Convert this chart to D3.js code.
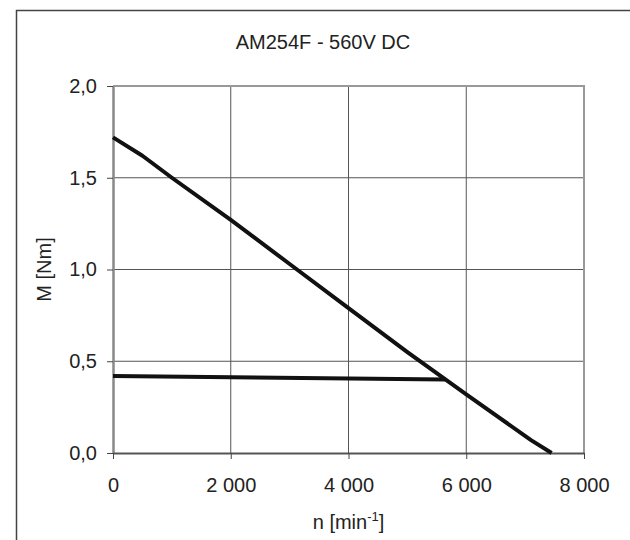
<!DOCTYPE html>
<html>
<head>
<meta charset="utf-8">
<script src="https://cdn.jsdelivr.net/npm/d3@7"></script>
<style>
  body { margin: 0; background: #fff; }
  text { font-family: "Liberation Sans", Arial, sans-serif; fill: #222; }
</style>
</head>
<body>
<div id="chart"></div>
<script>
const TITLE = 'AM254F - 560V DC';
const X_TICKS = [0, 2000, 4000, 6000, 8000];
const Y_TICKS = [0, 0.5, 1.0, 1.5, 2.0];

// peak torque curve
const peakSpeed = [0, 500, 1000, 2000, 3000, 4000, 5000, 6000, 7100, 7450];
const peakTorque = [1.72, 1.62, 1.50, 1.27, 1.03, 0.79, 0.55, 0.32, 0.07, 0.0];

// continuous torque
const contSpeed = [0, 5640];
const contTorque = [0.42, 0.40];

const WIDTH = 630, HEIGHT = 540;
const MARGIN = { top: 86, right: 46, bottom: 87, left: 113 };
const INNER_WIDTH = WIDTH - MARGIN.left - MARGIN.right,
  INNER_HEIGHT = HEIGHT - MARGIN.top - MARGIN.bottom;
const FONT = '20px';

const xScale = d3.scaleLinear().domain([0, 8000]).range([0, INNER_WIDTH]);
const yScale = d3.scaleLinear().domain([0, 2]).range([INNER_HEIGHT, 0]);

const svg = d3.select('#chart').append('svg')
  .attr('width', WIDTH)
  .attr('height', HEIGHT);

// outer frame
svg.append('rect')
  .attr('x', 16.5).attr('y', 10.5)
  .attr('width', 640).attr('height', 560)
  .attr('fill', 'none').attr('stroke', '#444').attr('stroke-width', 1.5);

svg.append('text')
  .attr('x', 323).attr('y', 49)
  .attr('text-anchor', 'middle')
  .style('font-size', FONT)
  .text(TITLE);

const g = svg.append('g')
  .attr('transform', `translate(${MARGIN.left}, ${MARGIN.top})`);

// grid
g.append('g').selectAll('line')
  .data(X_TICKS.slice(1, -1))
  .enter().append('line')
  .attr('x1', d => xScale(d)).attr('x2', d => xScale(d))
  .attr('y1', 0).attr('y2', INNER_HEIGHT)
  .attr('stroke', '#555').attr('stroke-width', 1);

g.append('g').selectAll('line')
  .data(Y_TICKS.slice(1, -1))
  .enter().append('line')
  .attr('x1', 0).attr('x2', INNER_WIDTH)
  .attr('y1', d => yScale(d)).attr('y2', d => yScale(d))
  .attr('stroke', '#555').attr('stroke-width', 1);

// plot border top / right
g.append('path')
  .attr('d', `M0,0H${INNER_WIDTH}V${INNER_HEIGHT}`)
  .attr('fill', 'none').attr('stroke', '#999').attr('stroke-width', 2);

const fmtY = d => d3.format('.1f')(d).replace('.', ',');
const fmtX = d => d3.format(',')(d).replace(/,/g, ' ');

const yAxis = d3.axisLeft(yScale)
  .tickValues(Y_TICKS)
  .tickSizeInner(6).tickSizeOuter(0).tickPadding(10)
  .tickFormat(fmtY);

const xAxis = d3.axisBottom(xScale)
  .tickValues(X_TICKS)
  .tickSizeInner(6).tickSizeOuter(0).tickPadding(19)
  .tickFormat(fmtX);

const yG = g.append('g').call(yAxis);
yG.select('.domain').attr('stroke', '#888').attr('stroke-width', 2.5);
yG.selectAll('.tick line').attr('stroke', '#444');
yG.selectAll('.tick text').style('font-size', FONT)
  .style('font-family', '"Liberation Sans", Arial, sans-serif').attr('fill', '#222');

const xG = g.append('g')
  .attr('transform', `translate(0, ${INNER_HEIGHT})`)
  .call(xAxis);
xG.select('.domain').attr('stroke', '#555').attr('stroke-width', 2);
xG.selectAll('.tick line').attr('stroke', '#444');
xG.selectAll('.tick text').style('font-size', FONT)
  .style('font-family', '"Liberation Sans", Arial, sans-serif').attr('fill', '#222');

// axis labels
svg.append('text')
  .attr('transform', `translate(51, ${MARGIN.top + INNER_HEIGHT / 2}) rotate(-90)`)
  .attr('text-anchor', 'middle')
  .style('font-size', FONT)
  .text('M [Nm]');

const xl = svg.append('text')
  .attr('x', MARGIN.left + INNER_WIDTH / 2).attr('y', 529)
  .attr('text-anchor', 'middle')
  .style('font-size', FONT);
xl.append('tspan').text('n [min');
xl.append('tspan').attr('dy', -8).style('font-size', '13px').text('-1');
xl.append('tspan').attr('dy', 8).text(']');

const line = d3.line()
  .x(d => xScale(d[0]))
  .y(d => yScale(d[1]));

g.append('path')
  .datum(peakSpeed.map((s, i) => [s, peakTorque[i]]))
  .attr('d', line)
  .attr('fill', 'none').attr('stroke', '#111').attr('stroke-width', 4)
  .attr('stroke-linejoin', 'round');

g.append('path')
  .datum(contSpeed.map((s, i) => [s, contTorque[i]]))
  .attr('d', line)
  .attr('fill', 'none').attr('stroke', '#111').attr('stroke-width', 4);
</script>
</body>
</html>
